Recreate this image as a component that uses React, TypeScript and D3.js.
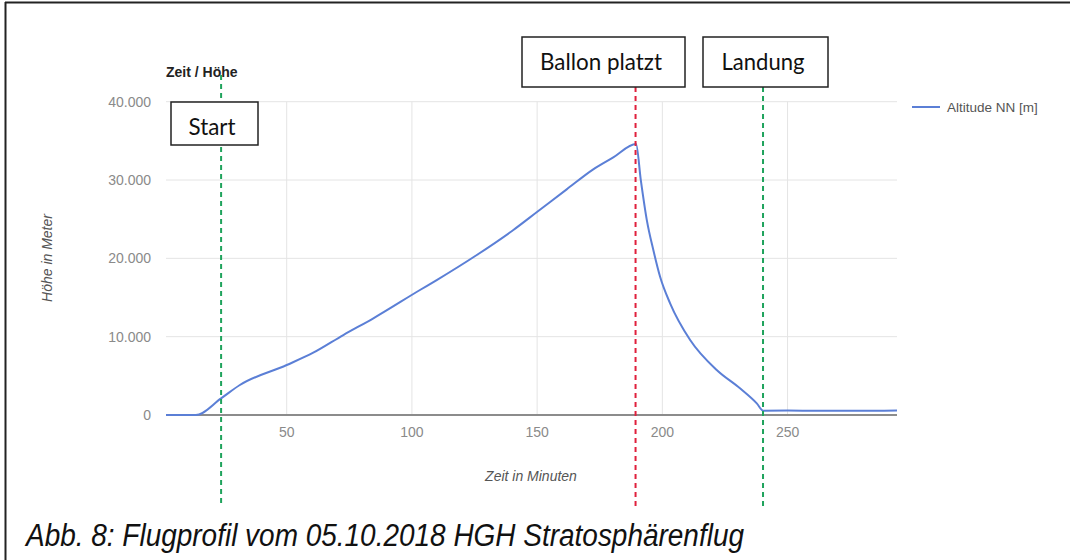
import React from "react";
import * as d3 from "d3";

// ---- data ----
const timeMin = [1.8, 13.7, 23.8, 31.3, 50, 60.6, 72.6, 84.6, 103.2, 109.9, 125.9, 140.5, 149.8, 161.8, 172.4, 180.4, 189.5, 191.4, 193.8, 196.4, 199.1, 203.1, 211.1, 221.7, 231.0, 237.7, 240.3, 250, 262, 275, 285, 293.7];
const altitude = [0, 0, 2130, 3830, 6380, 7950, 10210, 12350, 15960, 17230, 20430, 23620, 25880, 28810, 31370, 32900, 34600, 30000, 24890, 21060, 17650, 14260, 9580, 5750, 3410, 1490, 550, 560, 540, 550, 530, 560];
const xTicks = [50, 100, 150, 200, 250];
const yTicks = [0, 10000, 20000, 30000, 40000];
const eventTimes = [23.8, 189.3, 240.2];
const eventLabels = ["Start", "Ballon platzt", "Landung"];
const eventColors = ["#1fa35c", "#e0203c", "#1fa35c"];
const seriesName = "Altitude NN [m]";
const chartTitle = "Zeit / Höhe";
const xTitle = "Zeit in Minuten";
const yTitle = "Höhe in Meter";
const caption = "Abb. 8: Flugprofil vom 05.10.2018 HGH Stratosphärenflug";

const W = 1070;
const H = 560;

export default function App() {
  const x = d3.scaleLinear().domain([1.8, 293.7]).range([166, 897]);
  const y = d3.scaleLinear().domain([0, 40000]).range([415, 101.7]);
  const pts: [number, number][] = timeMin.map((t, i) => [t, altitude[i]]);
  const line = d3
    .line<[number, number]>()
    .x((d) => x(d[0]))
    .y((d) => y(d[1]))
    .curve(d3.curveMonotoneX);
  const fmt = (v: number) => (v === 0 ? "0" : d3.format(",")(v).replace(/,/g, "."));

  // label box layout
  const boxes = [
    { x0: 171, x1: 258, y0: 102, y1: 145, tx: 212, ty: 135, tl: 47 },
    { x0: 522, x1: 685, y0: 37, y1: 87, tx: 601, ty: 70, tl: 122 },
    { x0: 703, x1: 828, y0: 37, y1: 87, tx: 763, ty: 70, tl: 83 },
  ];
  const lineTops = [75, 87, 87];

  return (
    <svg
      width={W}
      height={H}
      viewBox={`0 0 ${W} ${H}`}
      style={{ position: "absolute", left: 0, top: 0, background: "#fff" }}
      fontFamily="'Liberation Sans', Arial, sans-serif"
    >
      <rect x={0} y={0} width={W} height={H} fill="#fff" />
      {/* frame */}
      <line x1={5} x2={W} y1={2.5} y2={2.5} stroke="#222" strokeWidth={2} />
      <line x1={5.5} x2={5.5} y1={2} y2={H} stroke="#222" strokeWidth={2} />

      {/* gridlines */}
      {yTicks.filter((v) => v > 0).map((v) => (
        <line key={"gy" + v} x1={166} x2={897} y1={y(v)} y2={y(v)} stroke="#e4e4e4" strokeWidth={1} />
      ))}
      {xTicks.map((v) => (
        <line key={"gx" + v} x1={x(v)} x2={x(v)} y1={y(40000)} y2={y(0)} stroke="#e4e4e4" strokeWidth={1} />
      ))}
      {/* baseline */}
      <line x1={166} x2={897} y1={y(0)} y2={y(0)} stroke="#8c8c8c" strokeWidth={2} />

      {/* y tick labels */}
      {yTicks.map((v) => (
        <text key={"ty" + v} x={151} y={y(v) + 5} textAnchor="end" fontSize={14} fill="#8a8a8a">
          {fmt(v)}
        </text>
      ))}
      {/* x tick labels */}
      {xTicks.map((v) => (
        <text key={"tx" + v} x={x(v)} y={437} textAnchor="middle" fontSize={14} fill="#8a8a8a">
          {v}
        </text>
      ))}

      {/* axis titles */}
      <text x={531} y={481} textAnchor="middle" fontSize={14} fontStyle="italic" fill="#555">
        {xTitle}
      </text>
      <text
        transform="translate(52,258) rotate(-90)"
        textAnchor="middle"
        fontSize={14}
        fontStyle="italic"
        fill="#555"
      >
        {yTitle}
      </text>

      {/* chart title */}
      <text x={166} y={77} fontSize={14} fontWeight="bold" fill="#222">
        {chartTitle}
      </text>

      {/* series */}
      <path d={line(pts) || ""} fill="none" stroke="#5b7fd6" strokeWidth={2} strokeLinejoin="round" />

      {/* legend */}
      <line x1={912} x2={940} y1={107} y2={107} stroke="#5b7fd6" strokeWidth={2} />
      <text x={947} y={112} fontSize={13.5} fill="#555">
        {seriesName}
      </text>

      {/* event lines */}
      {eventTimes.map((t, i) => (
        <line
          key={"ev" + i}
          x1={x(t)}
          x2={x(t)}
          y1={lineTops[i]}
          y2={507}
          stroke={eventColors[i]}
          strokeWidth={2}
          strokeDasharray="5,4"
        />
      ))}

      {/* event label boxes */}
      {eventLabels.map((lab, i) => {
        const b = boxes[i];
        return (
          <g key={"box" + i}>
            <rect x={b.x0} y={b.y0} width={b.x1 - b.x0} height={b.y1 - b.y0} fill="#fff" stroke="#222" strokeWidth={1.5} />
            <text
              x={b.tx}
              y={b.ty}
              textAnchor="middle"
              fontSize={23}
              fontFamily="Lato, 'Open Sans', sans-serif"
              fill="#111"
              textLength={b.tl}
              lengthAdjust="spacingAndGlyphs"
            >
              {lab}
            </text>
          </g>
        );
      })}

      {/* caption */}
      <text
        x={26}
        y={546}
        fontSize={31}
        fontStyle="italic"
        fill="#111"
        textLength={718}
        lengthAdjust="spacingAndGlyphs"
      >
        {caption}
      </text>
    </svg>
  );
}
